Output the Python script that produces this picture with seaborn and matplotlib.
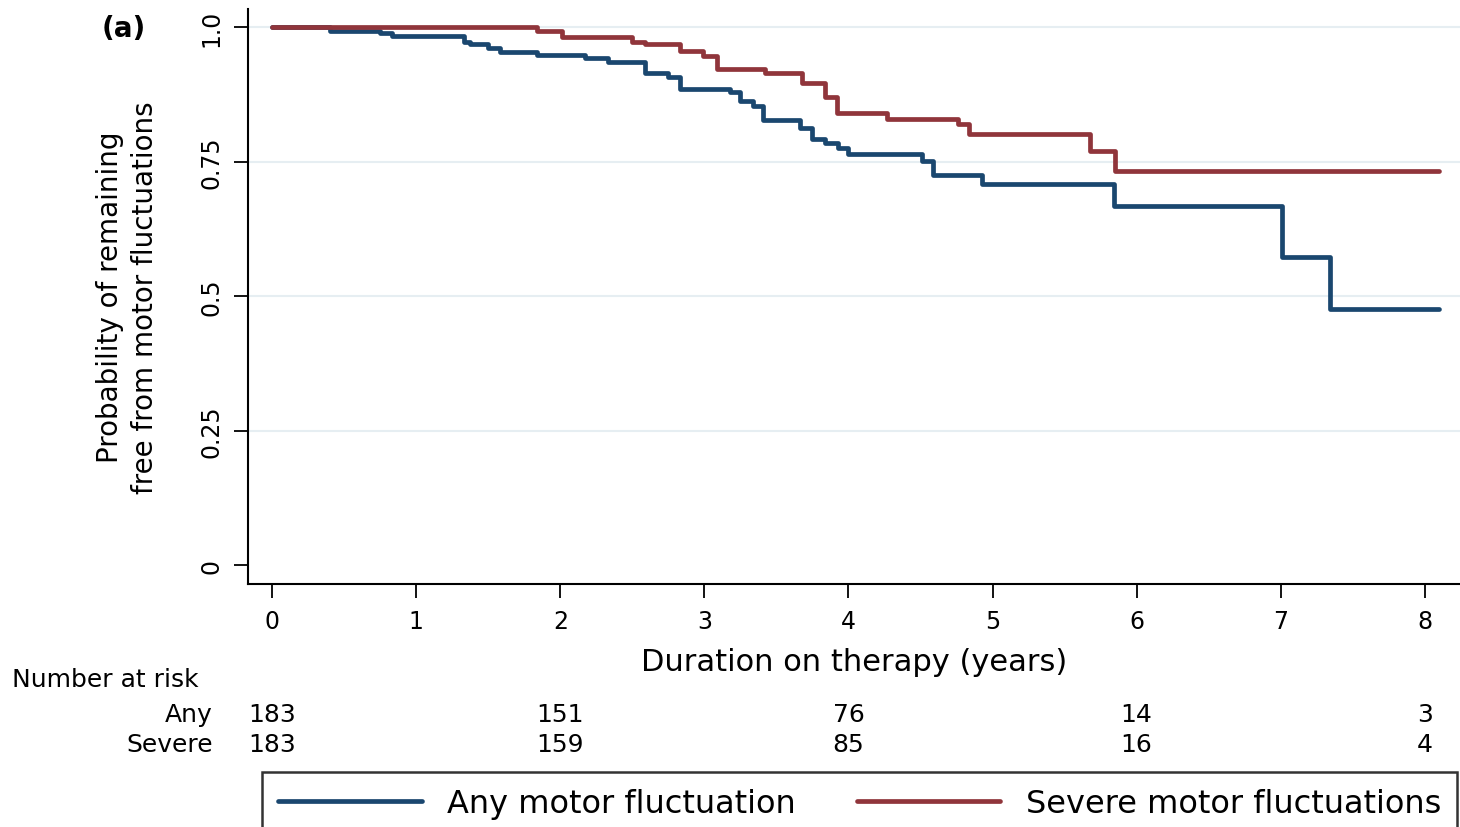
import matplotlib
matplotlib.use("Agg")
import matplotlib.pyplot as plt
import matplotlib.transforms as mtransforms
import seaborn as sns
import pandas as pd

# Kaplan-Meier step points (time in years, survival after step)
any_time = [0.0, 0.40, 0.75, 0.83, 1.33, 1.37, 1.50, 1.58, 1.84, 2.17, 2.33, 2.59,
            2.75, 2.83, 3.18, 3.25, 3.34, 3.41, 3.66, 3.75, 3.84, 3.93, 4.00,
            4.51, 4.59, 4.93, 5.84, 7.01, 7.34, 8.10]
any_surv = [1.0, 0.993, 0.989, 0.983, 0.973, 0.968, 0.961, 0.954, 0.948, 0.942,
            0.936, 0.914, 0.908, 0.886, 0.880, 0.863, 0.854, 0.828, 0.812, 0.793,
            0.784, 0.775, 0.764, 0.751, 0.725, 0.708, 0.668, 0.572, 0.477, 0.477]

sev_time = [0.0, 1.84, 2.01, 2.50, 2.59, 2.83, 2.99, 3.09, 3.42, 3.68, 3.84, 3.92,
            4.27, 4.76, 4.84, 5.68, 5.85, 8.10]
sev_surv = [1.0, 0.993, 0.981, 0.973, 0.968, 0.955, 0.947, 0.923, 0.914, 0.897,
            0.870, 0.840, 0.830, 0.820, 0.801, 0.770, 0.733, 0.733]

groups = ["Any motor fluctuation", "Severe motor fluctuations"]
colors = ["#1a476f", "#90353b"]

risk_times = [0, 2, 4, 6, 8]
risk_any = [183, 151, 76, 14, 3]
risk_severe = [183, 159, 85, 16, 4]

df = pd.concat([
    pd.DataFrame({"time": any_time, "surv": any_surv, "group": groups[0]}),
    pd.DataFrame({"time": sev_time, "surv": sev_surv, "group": groups[1]}),
])

sns.set_style("white")
plt.rcParams["font.family"] = ["DejaVu Sans"]
plt.rcParams["text.color"] = "black"
plt.rcParams["axes.labelcolor"] = "black"
plt.rcParams["xtick.color"] = "black"
plt.rcParams["ytick.color"] = "black"

fig = plt.figure(figsize=(14.6, 8.28), dpi=100)
ax = fig.add_axes([0.170, 0.2935, 0.830, 0.6945])

sns.lineplot(data=df, x="time", y="surv", hue="group", palette=colors,
             estimator=None, drawstyle="steps-post", linewidth=3.4, ax=ax)

ax.set_xlim(-0.167, 8.245)
ax.set_ylim(-0.035, 1.034)
ax.set_xticks(range(9))
ax.set_yticks([0, 0.25, 0.5, 0.75, 1.0])
ax.set_yticklabels(["0", "0.25", "0.5", "0.75", "1.0"])
for yv in [0.25, 0.5, 0.75, 1.0]:
    ax.axhline(yv, color="#e6eef2", linewidth=1.5, zorder=0)

ax.tick_params(axis="y", labelrotation=90, length=10, width=1.3, labelsize=17,
               direction="out", left=True, pad=8)
ax.tick_params(axis="x", length=10, width=1.3, labelsize=17, direction="out",
               bottom=True, pad=8)
for lbl in ax.get_yticklabels():
    lbl.set_va("center")

for s in ["top", "right"]:
    ax.spines[s].set_visible(False)
for s in ["left", "bottom"]:
    ax.spines[s].set_color("black")
    ax.spines[s].set_linewidth(1.5)

ax.set_xlabel("Duration on therapy (years)", fontsize=22, labelpad=10)
ax.set_ylabel("Probability of remaining\nfree from motor fluctuations",
              fontsize=20, linespacing=1.3)
ax.yaxis.set_label_coords(-0.074, 0.5)

ax.get_legend().remove()

fig.text(0.085, 0.965, "(a)", fontsize=20, fontweight="bold", ha="center", va="center")

# number at risk table
tr = mtransforms.blended_transform_factory(ax.transData, fig.transFigure)
fig.text(0.008, 1 - 680 / 828, "Number at risk", fontsize=18, ha="left", va="center")
fig.text(213 / 1460, 1 - 715 / 828, "Any", fontsize=18, ha="right", va="center")
fig.text(213 / 1460, 1 - 745 / 828, "Severe", fontsize=18, ha="right", va="center")
for t, a, s in zip(risk_times, risk_any, risk_severe):
    ax.text(t, 1 - 715 / 828, str(a), transform=tr, fontsize=18, ha="center", va="center")
    ax.text(t, 1 - 745 / 828, str(s), transform=tr, fontsize=18, ha="center", va="center")

handles = [plt.Line2D([], [], color=c, linewidth=3.4) for c in colors]
leg = fig.legend(handles, groups, loc="upper left", ncol=2,
                 bbox_to_anchor=(262 / 1460, 1 - 773 / 828), fontsize=23,
                 frameon=True, fancybox=False, edgecolor="black",
                 handlelength=4.5, columnspacing=1.9, borderpad=0.5,
                 handletextpad=0.8, borderaxespad=0)
leg.get_frame().set_linewidth(1.8)

fig.savefig("out.png", dpi=100)
